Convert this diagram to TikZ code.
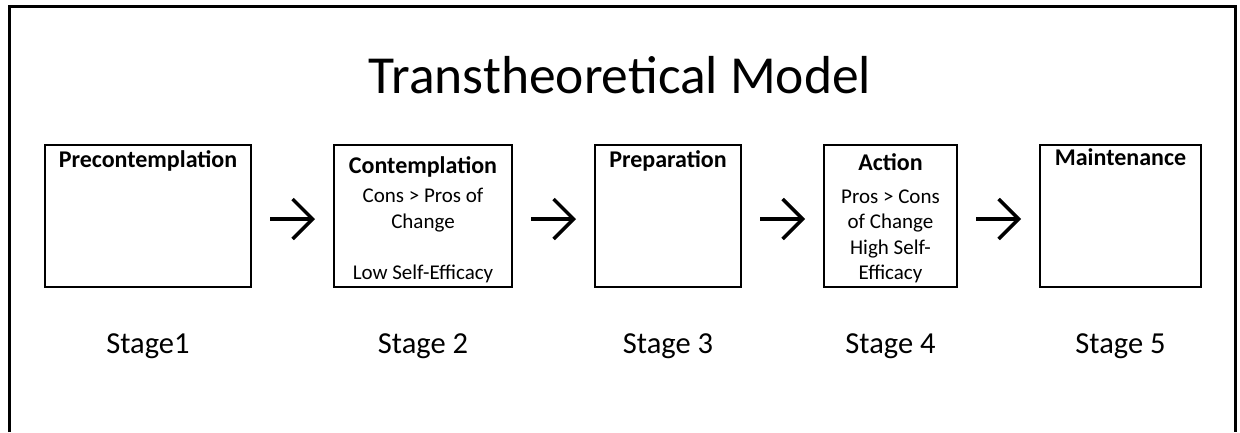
\documentclass[tikz,border=0pt]{standalone}
\usepackage{fontspec}
\setmainfont{Carlito}
\usetikzlibrary{positioning,arrows.meta}

\begin{document}
\begin{tikzpicture}[x=1pt, y=-1pt, node distance=83pt, >={Straight Barb[length=20pt,width=40pt]}]
\tikzset{
  stagebox/.style={draw, rectangle, line width=2pt, outer sep=0pt, minimum height=142pt},
  boxhead/.style={inner sep=0pt, font=\fontsize{24}{28}\selectfont\bfseries, anchor=base},
  boxbody/.style={inner sep=0pt, align=center, font=\fontsize{21}{25.5}\selectfont},
  stagelabel/.style={inner sep=0pt, font=\fontsize{30.5}{36}\selectfont, anchor=base},
  flow/.style={->, line width=3.5pt, shorten <=19pt, shorten >=19pt}
}
\useasboundingbox (0,0) rectangle (1240,432);
% frame, open at the bottom
\draw [line width=3pt] (9.5,432) -- (9.5,6) -- (1235.5,6) -- (1235.5,432);

\node [inner sep=0pt, font=\fontsize{53.5}{60}\selectfont, anchor=base] (title) at (620,93) {Transtheoretical Model};

% the five stages
\node [stagebox, minimum width=206pt] (pre) at (148,216) {};
\node [stagebox, minimum width=178pt, right=of pre] (con) {};
\node [stagebox, minimum width=146pt, right=of con] (prep) {};
\node [stagebox, minimum width=133pt, right=of prep] (act) {};
\node [stagebox, minimum width=161pt, right=of act] (main) {};

\node [boxhead] (prehead) at ([yshift=-22pt]pre.north) {Precontemplation};
\node [boxhead] (conhead) at ([yshift=-28pt]con.north) {Contemplation};
\node [boxhead] (prephead) at ([yshift=-22pt]prep.north) {Preparation};
\node [boxhead] (acthead) at ([yshift=-25pt]act.north) {Action};
\node [boxhead] (mainhead) at ([yshift=-20pt]main.north) {Maintenance};

\node [boxbody, below=15pt of conhead.base] (conbody) {Cons > Pros of\\Change\\[25.5pt]Low Self-Efficacy};
\node [boxbody, below=19.5pt of acthead.base] (actbody) {Pros > Cons\\of Change\\High Self-\\Efficacy};

\node [stagelabel] (prelabel) at ([yshift=-66pt]pre.south) {Stage1};
\node [stagelabel] (conlabel) at ([yshift=-66pt]con.south) {Stage 2};
\node [stagelabel] (preplabel) at ([yshift=-66pt]prep.south) {Stage 3};
\node [stagelabel] (actlabel) at ([yshift=-66pt]act.south) {Stage 4};
\node [stagelabel] (mainlabel) at ([yshift=-66pt]main.south) {Stage 5};

\draw [flow] ([yshift=-3pt]pre.east) -- ([yshift=-3pt]con.west);
\draw [flow] ([yshift=-3pt]con.east) -- ([yshift=-3pt]prep.west);
\draw [flow] ([yshift=-3pt]prep.east) -- ([yshift=-3pt]act.west);
\draw [flow] ([yshift=-3pt]act.east) -- ([yshift=-3pt]main.west);
\end{tikzpicture}
\end{document}
